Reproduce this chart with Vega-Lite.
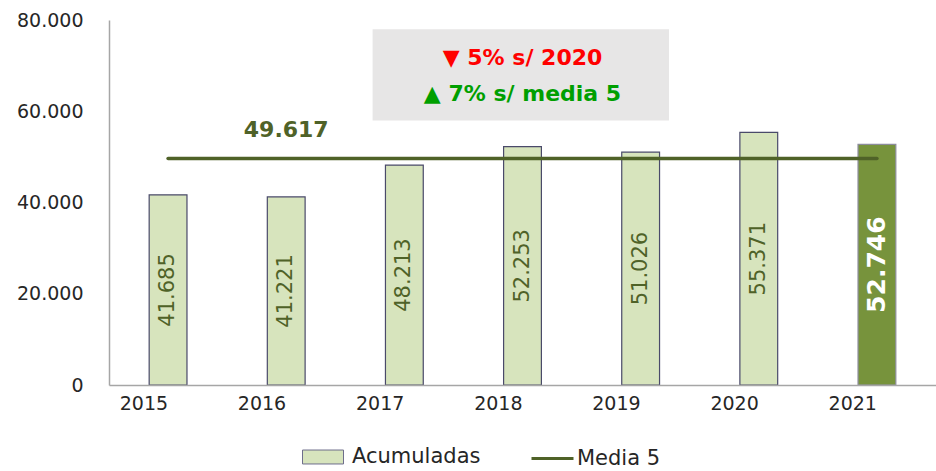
{
  "$schema": "https://vega.github.io/schema/vega-lite/v6.json",
  "width": 827,
  "height": 365,
  "autosize": {"type": "none"},
  "padding": {"left": 109, "top": 20, "right": 0, "bottom": 86},
  "config": {
    "locale": {"number": {"decimal": ",", "thousands": ".", "grouping": [3], "currency": ["", "€"]}},
    "view": {"stroke": null},
    "font": "DejaVu Sans"
  },
  "data": {
    "values": [
      {"year": "2015", "value": 41685},
      {"year": "2016", "value": 41221},
      {"year": "2017", "value": 48213},
      {"year": "2018", "value": 52253},
      {"year": "2019", "value": 51026},
      {"year": "2020", "value": 55371},
      {"year": "2021", "value": 52746}
    ]
  },
  "layer": [
    {
      "data": {"values": [{}]},
      "mark": {"type": "rect", "color": "#E7E6E6"},
      "encoding": {
        "x": {"datum": "2017", "type": "ordinal", "bandPosition": -0.34},
        "x2": {"datum": "2019", "bandPosition": 1.25},
        "y": {"datum": 78000, "type": "quantitative"},
        "y2": {"datum": 58000}
      }
    },
    {
      "mark": {"type": "bar", "strokeWidth": 1.2},
      "encoding": {
        "x": {
          "field": "year", "type": "ordinal",
          "scale": {"paddingInner": 0.68, "paddingOuter": 0.34},
          "axis": {
            "title": null, "ticks": false, "labelAngle": 0, "labelPadding": 18,
            "labelFontSize": 19, "labelColor": "#262626", "labelFont": "DejaVu Sans",
            "domainColor": "#A6A6A6", "domainWidth": 1.5
          }
        },
        "y": {
          "field": "value", "type": "quantitative",
          "scale": {"domain": [0, 80000]},
          "axis": {
            "title": null, "grid": false, "ticks": false, "values": [0, 20000, 40000, 60000, 80000],
            "format": ",.0f", "labelPadding": 26, "labelFontSize": 19, "labelColor": "#262626",
            "labelFont": "DejaVu Sans", "domainColor": "#A6A6A6", "domainWidth": 1.5
          }
        },
        "fill": {
          "datum": "Acumuladas", "type": "nominal",
          "scale": {"domain": ["Acumuladas"], "range": ["#D7E4BD"]},
          "legend": {
            "title": null, "orient": "none", "legendX": 193, "legendY": 416,
            "symbolType": "M-1,-0.34H1V0.34H-1Z", "symbolSize": 1681,
            "symbolStrokeColor": "#6E6E8C", "symbolStrokeWidth": 1,
            "labelFontSize": 21, "labelColor": "#262626", "labelOffset": 8, "labelFont": "DejaVu Sans"
          },
          "condition": {"test": "datum.year === '2021'", "value": "#77933C"}
        },
        "stroke": {
          "condition": {"test": "datum.year === '2021'", "value": "#8C8C9C"},
          "value": "#4A4A6A"
        }
      }
    },
    {
      "mark": {"type": "line", "strokeWidth": 3.5, "strokeCap": "round"},
      "encoding": {
        "x": {"field": "year", "type": "ordinal"},
        "y": {"datum": 49617, "type": "quantitative"},
        "stroke": {
          "datum": "Media 5", "type": "nominal",
          "scale": {"domain": ["Media 5"], "range": ["#4F6228"]},
          "legend": {
            "title": null, "orient": "none", "legendX": 421, "legendY": 416,
            "symbolType": "stroke", "symbolSize": 1764, "symbolStrokeWidth": 3,
            "labelFontSize": 21, "labelColor": "#262626", "labelOffset": 2, "labelFont": "DejaVu Sans"
          }
        }
      }
    },
    {
      "transform": [
        {"filter": "datum.year !== '2021'"},
        {"calculate": "datum.value / 2", "as": "mid"}
      ],
      "mark": {"type": "text", "angle": 270, "fontSize": 21, "color": "#4F6228", "baseline": "middle", "align": "center"},
      "encoding": {
        "x": {"field": "year", "type": "ordinal"},
        "y": {"field": "mid", "type": "quantitative"},
        "text": {"field": "value", "type": "quantitative", "format": ",.0f"}
      }
    },
    {
      "transform": [
        {"filter": "datum.year === '2021'"},
        {"calculate": "datum.value / 2", "as": "mid"}
      ],
      "mark": {"type": "text", "angle": 270, "fontSize": 25, "fontWeight": "bold", "color": "#FFFFFF", "baseline": "middle", "align": "center"},
      "encoding": {
        "x": {"field": "year", "type": "ordinal"},
        "y": {"field": "mid", "type": "quantitative"},
        "text": {"field": "value", "type": "quantitative", "format": ",.0f"}
      }
    },
    {
      "data": {"values": [{}]},
      "mark": {"type": "text", "fontSize": 22, "fontWeight": "bold", "color": "#4F6228", "baseline": "middle", "align": "center"},
      "encoding": {
        "x": {"datum": "2016", "type": "ordinal"},
        "y": {"datum": 55900, "type": "quantitative"},
        "text": {"datum": 49617, "format": ",.0f"}
      }
    },
    {
      "data": {"values": [{}]},
      "mark": {"type": "text", "fontSize": 22, "fontWeight": "bold", "color": "#FF0000", "baseline": "middle", "align": "center"},
      "encoding": {
        "x": {"datum": "2018", "type": "ordinal"},
        "y": {"datum": 71700, "type": "quantitative"},
        "text": {"value": "▼ 5% s/ 2020"}
      }
    },
    {
      "data": {"values": [{}]},
      "mark": {"type": "text", "fontSize": 22, "fontWeight": "bold", "color": "#009F00", "baseline": "middle", "align": "center"},
      "encoding": {
        "x": {"datum": "2018", "type": "ordinal"},
        "y": {"datum": 63800, "type": "quantitative"},
        "text": {"value": "▲ 7% s/ media 5"}
      }
    }
  ]
}
